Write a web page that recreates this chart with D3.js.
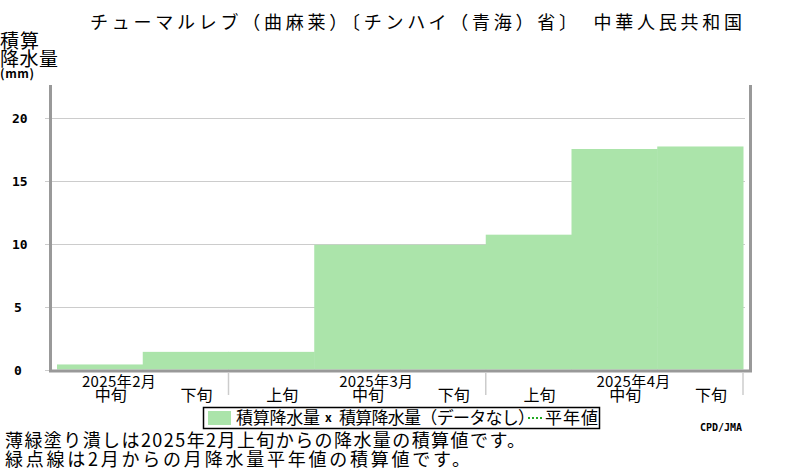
<!DOCTYPE html>
<html>
<head>
<meta charset="utf-8">
<script src="https://cdn.jsdelivr.net/npm/d3@7"></script>
<style>
  body { margin: 0; background: #fff; }
  svg { display: block; }
  text { font-family: "Noto Sans CJK JP", sans-serif; fill: #000; }
</style>
</head>
<body>
<svg id="chart" width="800" height="470"></svg>
<script>
// dekads shown on the x axis (2025 Feb mid .. Apr end)
var dekadLabels = ['中旬', '下旬', '上旬', '中旬', '下旬', '上旬', '中旬', '下旬'];
var monthLabels = ['2025年2月', '2025年3月', '2025年4月'];
var monthAt = [0, 3, 6];          // dekad index under which the month label sits
var monthEnds = [2, 5, 8];        // dekad boundary where each month ends
// cumulative precipitation (mm) at each dekad
var cumPrecip = [0.4, 1.4, 1.4, 9.9, 9.9, 10.7, 17.5, 17.7];
var yTicks = [0, 5, 10, 15, 20];

var svg = d3.select('#chart');

var x = d3.scaleLinear().domain([0, 8]).range([57, 743]);
var y = d3.scaleLinear().domain([0, 22.5]).range([369.5, 86]);

// grid lines + small ticks
svg.selectAll('line.grid')
	.data(yTicks)
	.enter()
	.append('line')
	.attr('class', 'grid')
	.attr('x1', 45)
	.attr('x2', 745)
	.attr('y1', function(d) { return Math.round(y(d)) + 0.5; })
	.attr('y2', function(d) { return Math.round(y(d)) + 0.5; })
	.attr('stroke', '#cccccc')
	.attr('stroke-width', 1.2);

// cumulative bars
svg.selectAll('rect.bar')
	.data(cumPrecip)
	.enter()
	.append('rect')
	.attr('class', 'bar')
	.attr('x', function(d, i) { return x(i); })
	.attr('width', function(d, i) { return x(i + 1) - x(i) + 0.5; })
	.attr('y', function(d) { return y(d); })
	.attr('height', function(d) { return y(0) - y(d); })
	.attr('fill', '#abe4aa');

// frame (left, bottom, right)
var frame = svg.append('g').attr('stroke', '#999999').attr('stroke-width', 3).attr('fill', 'none');
frame.append('path').attr('d', 'M50.5,85 V371 H750.5 V85');

// y labels
svg.selectAll('text.ylab')
	.data(yTicks)
	.enter()
	.append('text')
	.attr('class', 'ylab')
	.attr('x', function(d) { return d < 10 ? 14 : 12; })
	.attr('y', function(d) { return y(d) + 5; })
	.style('font-family', '"DejaVu Sans Mono", monospace')
	.attr('font-weight', 'bold')
	.attr('font-size', 13)
	.text(function(d) { return d; });

// month boundary ticks
svg.selectAll('line.mtick')
	.data(monthEnds)
	.enter()
	.append('line')
	.attr('x1', function(d) { return x(d); })
	.attr('x2', function(d) { return x(d); })
	.attr('y1', 373)
	.attr('y2', 395)
	.attr('stroke', '#cccccc')
	.attr('stroke-width', 1.5);

// dekad labels
svg.selectAll('text.dek')
	.data(dekadLabels)
	.enter()
	.append('text')
	.attr('x', function(d, i) { return (x(i) + x(i + 1)) / 2 + 11; })
	.attr('y', 401)
	.attr('text-anchor', 'middle')
	.attr('font-size', 16)
	.text(function(d) { return d; });

// month labels
svg.selectAll('text.mon')
	.data(monthLabels)
	.enter()
	.append('text')
	.attr('x', function(d, i) { return (x(monthAt[i]) + x(monthAt[i] + 1)) / 2 + 19; })
	.attr('y', 387)
	.attr('text-anchor', 'middle')
	.attr('font-size', 15)
	.attr('textLength', 74)
	.text(function(d) { return d; });

// title
svg.append('text')
	.attr('x', 90)
	.attr('y', 29)
	.attr('font-size', 18)
	.attr('textLength', 652)
	.text('チューマルレブ（曲麻莱）〔チンハイ（青海）省〕　中華人民共和国');

// y axis title
svg.append('text').attr('x', 0).attr('y', 48).attr('font-size', 19).attr('textLength', 39).text('積算');
svg.append('text').attr('x', 0).attr('y', 66).attr('font-size', 19).attr('textLength', 58).text('降水量');
svg.append('text').attr('x', 0).attr('y', 78).attr('font-size', 12).attr('font-weight', 'bold')
	.attr('textLength', 34).text('(mm)');

// legend
var lg = svg.append('g');
lg.append('rect').attr('x', 203.5).attr('y', 407.5).attr('width', 396).attr('height', 21)
	.attr('fill', '#fff').attr('stroke', '#000').attr('stroke-width', 1.5);
lg.append('rect').attr('x', 208).attr('y', 411).attr('width', 23).attr('height', 14).attr('fill', '#abe4aa');
lg.append('text').attr('x', 236).attr('y', 424).attr('font-size', 17).attr('textLength', 84).text('積算降水量');
lg.append('text').attr('x', 325).attr('y', 422).attr('font-size', 12).attr('font-weight', 'bold').text('x');
lg.append('text').attr('x', 339).attr('y', 424).attr('font-size', 17).attr('textLength', 196).text('積算降水量（データなし）');
lg.append('line').attr('x1', 528).attr('x2', 542).attr('y1', 418).attr('y2', 418)
	.attr('stroke', '#22aa22').attr('stroke-width', 2).attr('stroke-dasharray', '2,2');
lg.append('text').attr('x', 545).attr('y', 424).attr('font-size', 17).attr('textLength', 53).text('平年値');

// credit
svg.append('text').attr('x', 700).attr('y', 431).attr('font-size', 10).attr('font-weight', 'bold')
	.style('font-family', '"DejaVu Sans Mono", monospace').text('CPD/JMA');

// notes
svg.append('text').attr('x', 5).attr('y', 447).attr('font-size', 18).attr('textLength', 520)
	.text('薄緑塗り潰しは2025年2月上旬からの降水量の積算値です。');
svg.append('text').attr('x', 5).attr('y', 466).attr('font-size', 18).attr('textLength', 465)
	.text('緑点線は2月からの月降水量平年値の積算値です。');
</script>
</body>
</html>
